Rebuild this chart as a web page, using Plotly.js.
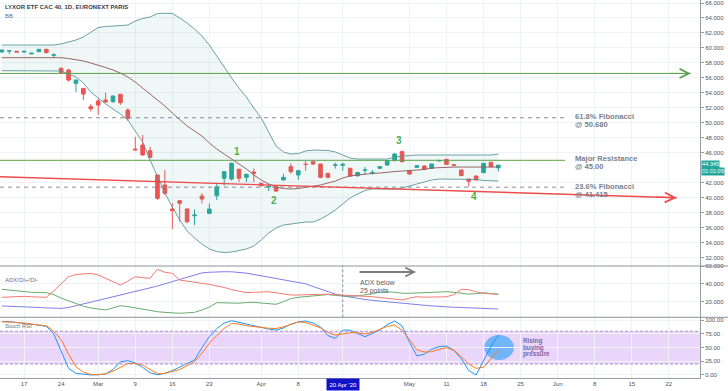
<!DOCTYPE html>
<html><head><meta charset="utf-8">
<script src="https://cdn.plot.ly/plotly-3.0.1.min.js"></script>
<style>html,body{margin:0;padding:0;background:#fff}#chart{width:728px;height:391px}</style>
</head><body><div id="chart"></div>
<script>
// ---------- DATA (bar index 0 = 17 Feb 2020; first bar is 12 Feb) ----------
const firstBar = -3;
const openP = [59.46,59.58,59.55,59.45,59.20,59.50,59.82,59.02,57.28,57.05,55.28,54.60,52.16,52.92,53.05,52.82,53.81,51.71,46.50,47.04,46.28,43.04,41.70,38.50,39.60,38.50,37.60,40.23,37.92,40.27,42.60,42.50,43.80,42.73,43.44,41.93,41.44,41.47,42.37,44.15,43.04,44.48,44.80,44.50,43.26,44.34,44.33,43.93,42.94,43.68,43.30,43.93,44.37,44.95,46.15,43.57,44.06,44.24,43.93,44.92,45.13,44.40,43.70,42.50,42.90,43.35,44.73,44.00];
const highP = [59.80,59.70,59.60,59.60,59.35,59.85,59.85,59.28,57.40,57.20,55.80,54.65,52.50,53.28,54.03,53.65,53.85,51.94,48.15,48.38,46.80,43.10,43.70,39.26,39.70,38.60,38.45,40.60,39.26,41.93,43.55,44.70,43.90,43.20,43.90,42.00,41.80,41.55,43.20,44.60,43.70,44.90,45.00,44.55,43.30,44.70,44.70,44.00,43.45,44.10,43.70,44.20,45.00,45.95,46.30,43.65,44.35,44.30,44.55,45.10,45.20,44.50,43.75,42.55,42.95,44.65,44.80,44.40];
const lowP = [59.40,59.20,59.40,59.40,59.15,59.45,59.30,58.75,56.60,55.50,54.10,53.05,51.50,51.05,52.70,52.70,52.40,50.29,46.30,45.60,45.30,39.70,40.37,35.79,36.80,36.60,36.36,39.26,37.80,39.70,41.60,42.30,42.10,42.10,42.10,41.50,40.90,40.80,42.30,43.20,42.37,43.60,44.40,42.60,42.60,43.90,43.60,42.80,42.80,43.10,43.10,43.90,44.30,44.90,44.75,43.10,44.00,43.75,43.90,44.80,44.40,44.20,42.90,41.50,42.30,43.30,44.10,43.50];
const closeP = [59.72,59.62,59.45,59.55,59.30,59.82,59.37,59.08,56.70,55.72,55.72,53.85,51.89,52.38,52.78,53.58,52.69,50.60,46.40,45.71,45.40,39.92,40.59,38.27,39.26,36.80,37.70,39.83,38.50,41.47,43.48,44.60,42.60,43.13,43.26,41.61,41.50,40.90,42.73,43.48,43.61,44.44,44.50,42.73,42.73,44.40,44.46,42.90,43.37,43.72,43.36,44.15,44.95,45.84,44.81,43.17,44.28,43.80,44.50,44.97,44.46,44.35,42.95,42.20,42.37,44.60,44.15,44.35];

const bbUpper = [60.39,60.39,60.39,60.39,60.39,60.39,60.39,60.39,60.53,60.79,61.06,61.46,62.13,62.73,62.86,62.93,62.93,63.06,63.60,63.93,64.13,64.60,64.62,64.62,64.00,63.33,62.53,61.59,60.39,58.92,57.32,55.99,54.65,53.45,51.98,50.65,48.78,46.91,46.11,45.84,45.91,46.24,46.37,46.37,46.31,46.11,45.71,45.31,45.17,45.17,45.17,45.17,45.17,45.44,45.57,45.64,45.71,45.71,45.71,45.71,45.71,45.71,45.71,45.71,45.71,45.71,45.71,45.84];
const bbBasis = [58.70,58.70,58.70,58.70,58.70,58.70,58.70,58.70,58.70,58.59,58.46,58.26,57.99,57.72,57.39,57.05,56.65,56.12,55.45,54.65,53.85,53.05,52.25,51.31,50.38,49.58,48.91,48.24,47.31,46.51,45.84,45.17,44.50,43.84,43.04,42.37,41.84,41.43,41.23,41.17,41.23,41.37,41.57,41.70,41.97,42.23,42.64,42.90,43.04,43.17,43.24,43.30,43.44,43.50,43.57,43.64,43.70,43.77,43.97,44.04,44.10,44.10,44.10,44.10,44.10,44.10,44.10,44.10];
const bbLower = [56.96,56.96,56.96,56.96,56.96,56.96,56.96,56.96,56.92,56.52,56.12,55.32,54.12,53.32,52.52,51.85,51.18,50.38,48.91,47.44,45.04,42.77,40.63,38.76,37.03,35.56,34.62,33.82,33.16,32.82,32.69,32.76,32.96,33.16,33.56,34.36,35.29,35.96,36.36,36.49,36.63,36.76,36.76,37.16,37.70,38.36,39.16,39.97,40.50,40.97,41.17,41.17,41.17,41.17,41.30,41.57,41.84,42.10,42.37,42.50,42.50,42.50,42.50,42.50,42.44,42.30,42.24,42.24];

const adx = [15.2,15.0,14.8,14.5,14.0,13.5,13.0,12.6,12.5,13.5,15.5,17.5,19.5,21.0,23.0,25.0,27.0,29.0,31.0,33.0,35.0,37.5,40.0,42.5,45.0,48.0,50.5,52.3,53.0,53.5,53.6,53.5,53.0,52.0,50.5,49.0,47.5,46.0,44.8,43.5,42.0,40.0,37.0,34.0,31.0,28.5,26.5,25.0,24.0,22.5,21.5,20.6,19.8,18.8,18.0,17.2,16.5,16.0,15.3,14.6,14.0,13.8,13.5,13.2,12.9,12.6,12.2,11.8];
const diPlus = [33.9,33.0,32.0,31.2,30.5,30.3,30.1,28.0,24.0,21.0,18.0,15.0,13.0,11.5,10.7,13.0,15.5,14.5,13.0,11.5,10.0,8.8,8.0,7.2,7.0,7.5,8.1,10.7,14.0,18.9,18.5,18.2,18.3,19.0,19.3,18.5,17.8,17.1,20.0,23.5,24.9,25.5,26.4,27.0,28.0,27.0,26.5,26.0,26.5,27.5,29.0,30.5,31.2,30.5,29.5,29.4,29.8,30.1,30.5,31.0,31.2,30.5,29.4,28.5,29.0,30.1,29.0,28.3];
const diMinus = [24.9,25.5,26.0,26.0,25.5,25.0,24.9,32.0,40.0,48.0,50.5,51.0,51.8,50.0,46.2,42.0,38.7,43.0,48.0,47.0,46.2,56.3,53.0,51.8,44.3,43.0,42.0,41.3,39.5,37.5,36.0,33.5,31.5,30.1,30.5,31.0,31.2,30.0,29.0,27.5,27.5,28.0,28.3,28.3,28.3,28.0,27.5,27.0,26.5,26.0,25.6,24.5,23.5,22.5,21.9,24.0,25.6,25.0,24.9,24.9,25.5,28.0,33.9,33.5,31.0,29.4,28.5,28.3];

const stochK = [97.5,97.5,96,95,93,91,89,75,42,12,3,1,0,0.5,2,10,24,26.2,22,14,4,0.5,3,8,14,20,27.4,50,70,85,95,99.3,96,93,90,87,84,82,86,93,97,98.7,95,88,72,67,82,82,76,70,76,82,92,98.7,90,60,35,38,47,52,53,45,30,8,0,25,52,73];
const stochD = [97.5,97,96,95,93,91.5,90,80,65,38,15,5,1,0.5,2,7,14,21,21,18.3,10,2.5,3,6,10,17,24.4,40,58,72,85,94.5,93,90,88,87,85.5,85,88,93,97,96,91,86,78,73,75,77.4,77,75,78,84,89,91.4,82,65,46,42,42.6,47,50,45,33.5,20,12.2,14,30,45.7];

const tickIndex = [0,5,10,15,20,25,32,37,43,52,57,62,67,72,77,82,87];
const tickLabels = ["17","24","Mar","9","16","23","Apr","8","20 Apr '20","May","11","18","25","Jun","8","15","22"];
const highlightTick = "20 Apr '20";

const levelValues = [50.68, 45.00, 41.415];
const levelTitles = ["61.8% Fibonacci", "Major Resistance", "23.6% Fibonacci"];
const levelTexts = ["@ 50.680", "@ 45.00", "@ 41.415"];
const upperGreenLevel = 56.6;
const trendValues = [42.81, 40.00];
const lastPrice = 44.345;
const countdown = "01:01:09";
const swingLabels = ["1","2","3","4"];
const swingIndex = [28.7, 33.7, 50.6, 60.7];
const swingPrice = [46.24, 39.70, 47.58, 40.23];
const stochBand = [20, 80];
const priceTicks = [32,34,36,38,40,42,46,48,50,52,54,56,58,60,62,64,66];

// ---------- LAYOUT HELPERS ----------
const W = 728, H = 391, PW = 700, PH = 378;
const xLeft = -3.25, xRight = 91.21;
const px = x => x / PW;             // pixel -> paper x
const py = y => (PH - y) / PH;      // pixel -> paper y
const barX = openP.map((_, k) => k + firstBar);

const GRID = '#eff2f6', AX = '#9a9ca3', TXT = '#50535e';
const GREEN = '#5aa04c', RED = '#ef4b4b';
const FONT = 'Liberation Sans, Arial, sans-serif';

const traces = [];
traces.push({x: barX, y: bbUpper, type: 'scatter', mode: 'lines', line: {color: '#5a969b', width: 0.9}, hoverinfo: 'skip', xaxis: 'x', yaxis: 'y'});
traces.push({x: barX, y: bbLower, type: 'scatter', mode: 'lines', line: {color: '#5a969b', width: 0.9}, fill: 'tonexty', fillcolor: 'rgba(90,170,170,0.09)', hoverinfo: 'skip', xaxis: 'x', yaxis: 'y'});
traces.push({x: barX, y: bbBasis, type: 'scatter', mode: 'lines', line: {color: '#8f5555', width: 0.9}, hoverinfo: 'skip', xaxis: 'x', yaxis: 'y'});
const levelEnd = 73.0;
traces.push({x: [xLeft, levelEnd], y: [levelValues[0], levelValues[0]], type: 'scatter', mode: 'lines', line: {color: '#8a8d95', width: 1, dash: '4px,4px'}, hoverinfo: 'skip'});
traces.push({x: [xLeft, levelEnd], y: [levelValues[1], levelValues[1]], type: 'scatter', mode: 'lines', line: {color: GREEN, width: 1}, hoverinfo: 'skip'});
traces.push({x: [xLeft, levelEnd], y: [levelValues[2], levelValues[2]], type: 'scatter', mode: 'lines', line: {color: '#8a8d95', width: 1, dash: '4px,4px'}, hoverinfo: 'skip'});
const greenEnd = 89.96, trendEnd = 88.07;
traces.push({x: [xLeft, greenEnd], y: [upperGreenLevel, upperGreenLevel], type: 'scatter', mode: 'lines', line: {color: GREEN, width: 1}, hoverinfo: 'skip'});
traces.push({x: [xLeft, trendEnd], y: trendValues, type: 'scatter', mode: 'lines', line: {color: RED, width: 1.4}, hoverinfo: 'skip'});
traces.push({
  type: 'candlestick', x: barX, open: openP, high: highP, low: lowP, close: closeP,
  increasing: {line: {color: '#26a69a', width: 1}, fillcolor: '#26a69a'},
  decreasing: {line: {color: '#ef5350', width: 1}, fillcolor: '#ef5350'},
  whiskerwidth: 0, hoverinfo: 'skip', xaxis: 'x', yaxis: 'y'
});
traces.push({x: barX, y: adx, type: 'scatter', mode: 'lines', line: {color: '#7f7fea', width: 1}, xaxis: 'x', yaxis: 'y2', hoverinfo: 'skip'});
traces.push({x: barX, y: diPlus, type: 'scatter', mode: 'lines', line: {color: '#66ad6c', width: 1}, xaxis: 'x', yaxis: 'y2', hoverinfo: 'skip'});
traces.push({x: barX, y: diMinus, type: 'scatter', mode: 'lines', line: {color: '#f27a70', width: 1}, xaxis: 'x', yaxis: 'y2', hoverinfo: 'skip'});
traces.push({x: barX, y: stochK, type: 'scatter', mode: 'lines', line: {color: '#2196f3', width: 1}, xaxis: 'x', yaxis: 'y3', hoverinfo: 'skip'});
traces.push({x: barX, y: stochD, type: 'scatter', mode: 'lines', line: {color: '#ff7a1a', width: 1}, xaxis: 'x', yaxis: 'y3', hoverinfo: 'skip'});

const mainDom = [py(266), 1], adxDom = [py(317.3), py(266)], stDom = [0, py(317.3)];

const ann = [];
const txt = (x, y, text, size, color, bold, extra) => ann.push(Object.assign({
  xref: 'paper', yref: 'paper', x: px(x), y: py(y), xanchor: 'left', yanchor: 'middle',
  text: bold ? '<b>' + text + '</b>' : text, showarrow: false,
  font: {family: FONT, size: size, color: color}
}, extra || {}));

txt(3, 7, 'LYXOR ETF CAC 40, 1D, EURONEXT PARIS', 6, '#3a3d46', true);
txt(3, 16, 'BB', 6, '#6f7280', false);
const labelY = [[116.2, 124.6], [158.5, 166.9], [186.2, 194.6]];
for (let k = 0; k < 3; k++) {
  txt(573, labelY[k][0], levelTitles[k], 7.6, '#7c7f88', true);
  txt(573, labelY[k][1], levelTexts[k], 7.6, '#7c7f88', true);
}
swingLabels.forEach((s, k) => ann.push({xref: 'x', yref: 'y', x: swingIndex[k], y: swingPrice[k], text: '<b>' + s + '</b>', showarrow: false, font: {family: FONT, size: 10, color: '#4caf50'}}));
ann.push({xref: 'x', yref: 'y', axref: 'x', ayref: 'y', x: greenEnd, y: upperGreenLevel, ax: greenEnd - 3, ay: upperGreenLevel, text: '', showarrow: true, arrowhead: 5, arrowsize: 1.8, arrowwidth: 1, arrowcolor: GREEN});
ann.push({xref: 'x', yref: 'y', axref: 'x', ayref: 'y', x: trendEnd, y: trendValues[1], ax: trendEnd - 3, ay: trendValues[1] + 0.09, text: '', showarrow: true, arrowhead: 5, arrowsize: 1.6, arrowwidth: 1.2, arrowcolor: RED});
ann.push({xref: 'x', yref: 'y2', axref: 'x', ayref: 'y2', x: 52.9, y: 53.3, ax: 45.06, ay: 53.3, text: '', showarrow: true, arrowhead: 5, arrowsize: 0.8, arrowwidth: 2.2, arrowcolor: '#7d7d7d'});
txt(358, 282, 'ADX below', 7, '#5d6068', false);
txt(358, 291, '25 points', 7, '#5d6068', false);
txt(3, 280, 'ADX/DI+/DI-', 6, '#6f7280', false);
txt(3, 326, 'Stoch RSI', 6, '#6f7280', false);
txt(521, 341.4, 'Rising', 6.3, '#7a66a8', true);
txt(521, 347.7, 'buying', 6.3, '#7a66a8', true);
txt(521, 354.2, 'pressure', 6.3, '#7a66a8', true);
// price label boxes on the axis
ann.push({xref: 'paper', yref: 'paper', x: 1, y: py(164.3), xanchor: 'left', yanchor: 'middle', text: lastPrice.toFixed(3), showarrow: false, bgcolor: '#26a69a', font: {family: FONT, size: 5.5, color: '#fff'}, borderpad: 0.3, xshift: 1});
ann.push({xref: 'paper', yref: 'paper', x: 1, y: py(171.6), xanchor: 'left', yanchor: 'middle', text: countdown, showarrow: false, bgcolor: '#26a69a', font: {family: FONT, size: 5.5, color: '#fff'}, borderpad: 0.3, xshift: 1});
// highlighted date tick
ann.push({xref: 'x', yref: 'paper', x: tickIndex[tickLabels.indexOf(highlightTick)], y: 0, yanchor: 'top', text: highlightTick, showarrow: false, bgcolor: '#1212c8', font: {family: FONT, size: 6, color: '#fff'}, borderpad: 2.5});

const shapes = [
  {type: 'rect', xref: 'paper', yref: 'y3', x0: 0, x1: 1, y0: stochBand[0], y1: stochBand[1], fillcolor: '#ead6fb', line: {width: 0}, layer: 'below'},
  {type: 'line', xref: 'paper', yref: 'y3', x0: 0, x1: 1, y0: stochBand[0], y1: stochBand[0], line: {color: '#ad93c6', width: 1, dash: '3px,2px'}},
  {type: 'line', xref: 'paper', yref: 'y3', x0: 0, x1: 1, y0: stochBand[1], y1: stochBand[1], line: {color: '#ad93c6', width: 1, dash: '3px,2px'}},
  {type: 'circle', xref: 'x', yref: 'y3', x0: 62.1, x1: 66.1, y0: 27.4, y1: 73.1, fillcolor: 'rgba(70,170,245,0.75)', line: {width: 0}, layer: 'below'},
  {type: 'line', xref: 'x', yref: 'paper', x0: 43, x1: 43, y0: adxDom[0], y1: adxDom[1], line: {color: '#8d8f99', width: 1, dash: '3px,2px'}},
  {type: 'line', xref: 'paper', yref: 'paper', x0: 0, x1: W / PW, y0: mainDom[0], y1: mainDom[0], line: {color: '#8f929b', width: 1}},
  {type: 'line', xref: 'paper', yref: 'paper', x0: 0, x1: W / PW, y0: adxDom[0], y1: adxDom[0], line: {color: '#8f929b', width: 1}}
];

const yBase = {side: 'right', anchor: 'x', showgrid: true, gridcolor: GRID, zeroline: false, showline: true, linecolor: AX, linewidth: 1,
  ticks: 'outside', ticklen: 3, tickcolor: AX, tickfont: {family: FONT, size: 6, color: TXT}, fixedrange: true};

const layout = {
  width: W, height: H, margin: {l: 0, r: W - PW, t: 0, b: H - PH},
  paper_bgcolor: '#fff', plot_bgcolor: '#fff', showlegend: false, dragmode: false,
  xaxis: {domain: [0, 1], range: [xLeft, xRight], anchor: 'y3', tickmode: 'array', tickvals: tickIndex,
    ticktext: tickLabels.map(t => t === highlightTick ? '' : t), showgrid: true, gridcolor: GRID, zeroline: false,
    showline: true, linecolor: AX, ticks: '', tickfont: {family: FONT, size: 6, color: TXT}, rangeslider: {visible: false}, fixedrange: true},
  yaxis: Object.assign({}, yBase, {domain: mainDom, range: [30.89, 66.40], tickvals: priceTicks, tickformat: '.3f'}),
  yaxis2: Object.assign({}, yBase, {domain: adxDom, range: [2.5, 60], tickvals: [20, 40, 60], tickformat: '.3f'}),
  yaxis3: Object.assign({}, yBase, {domain: stDom, range: [-5.5, 105.5], tickvals: [0, 25, 50, 75, 100], tickformat: '.2f'}),
  annotations: ann, shapes: shapes
};

Plotly.newPlot('chart', traces, layout, {staticPlot: true, displayModeBar: false});
</script>
</body></html>
